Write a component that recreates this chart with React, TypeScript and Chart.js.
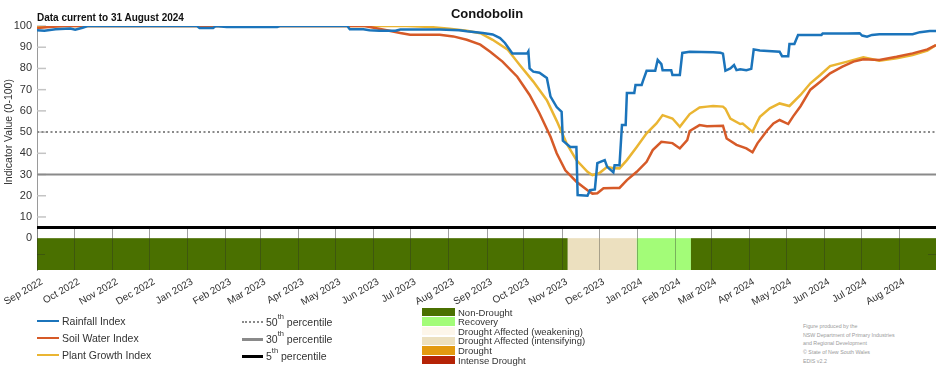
import React, { useEffect, useRef } from 'react';
import { Chart, registerables } from 'chart.js';
Chart.register(...registerables);

const FONT = '"Liberation Sans", Arial, sans-serif';

// x values are days since 1 Sep 2022
const monthDays = [0, 30, 61, 91, 122, 153, 181, 212, 242, 273, 303, 334, 365, 395, 426, 456, 487, 518, 547, 578, 608, 639, 669, 700];
const monthLabels = ['Sep 2022', 'Oct 2022', 'Nov 2022', 'Dec 2022', 'Jan 2023', 'Feb 2023', 'Mar 2023', 'Apr 2023', 'May 2023', 'Jun 2023', 'Jul 2023', 'Aug 2023', 'Sep 2023', 'Oct 2023', 'Nov 2023', 'Dec 2023', 'Jan 2024', 'Feb 2024', 'Mar 2024', 'Apr 2024', 'May 2024', 'Jun 2024', 'Jul 2024', 'Aug 2024'];
const yTicks = [0, 10, 20, 30, 40, 50, 60, 70, 80, 90, 100];

const rainDays = [0, 6, 15, 27, 31, 37, 41, 130, 132, 143, 145, 154, 195, 197, 252, 254, 265, 270, 278, 291, 295, 327, 343, 349, 362, 370, 376, 380, 386, 398, 399, 400, 403, 408, 414, 417, 422, 426, 427, 433, 438, 439, 447, 449, 453, 455, 461, 463, 468, 469, 473, 475, 478, 479, 485, 486, 491, 492, 495, 502, 504, 507, 508, 515, 516, 522, 524, 530, 549, 555, 557, 559, 563, 566, 568, 571, 576, 580, 582, 587, 603, 605, 610, 611, 615, 618, 637, 638, 658, 668, 670, 674, 678, 684, 711, 717, 725, 730];
const rainValues = [98, 97.8, 98.5, 98.8, 98.2, 99.2, 100, 100, 99, 99, 100, 99.5, 99.5, 100, 100, 98.5, 98.5, 98, 97.8, 97.8, 98.3, 98.3, 98, 97.5, 96.7, 96, 94.3, 92, 87, 87, 88, 80, 78.5, 78, 75.5, 66.7, 61.8, 59.6, 46, 43, 43, 20.3, 20, 22.6, 23, 35.4, 36.8, 33.6, 31, 34.4, 34.4, 53.3, 53.3, 68.4, 68.4, 72.2, 72.2, 74, 78.9, 78.9, 84, 82, 79.2, 79.2, 76.9, 76.9, 87.3, 87.9, 87.6, 87.4, 87, 78.9, 80, 81.6, 79.2, 79.6, 79.2, 79.8, 89, 88.5, 87.9, 85.8, 85.8, 91.5, 91.5, 95.8, 95.8, 96.5, 96.5, 96.6, 95.5, 95, 95.8, 96.1, 96.1, 97.1, 97.6, 97.6];

const soilDays = [0, 10, 22, 266, 284, 295, 303, 327, 338, 349, 360, 368, 378, 390, 400, 408, 417, 422, 429, 438, 447, 451, 455, 460, 468, 473, 479, 487, 495, 500, 507, 516, 522, 528, 530, 538, 544, 557, 560, 568, 576, 581, 585, 593, 598, 603, 610, 614, 620, 628, 636, 644, 654, 663, 671, 684, 698, 711, 723, 730];
const soilValues = [99, 99.5, 100, 100, 98, 96.7, 95.9, 95.9, 95.1, 93.5, 91.2, 87.9, 83.2, 76.1, 67.5, 58.9, 47.8, 40, 32, 26.6, 22.6, 21, 21.2, 23.5, 23.7, 23.7, 27.4, 31.3, 36, 41.5, 45.4, 44.8, 42.3, 46.2, 50.5, 53.3, 52.8, 53, 47, 44, 42.3, 40.5, 44.7, 50.9, 54.1, 55.7, 53.8, 57.4, 62.2, 70, 73.7, 77.7, 80.8, 83.2, 84.3, 84, 85.5, 87.1, 89, 91];

const plantDays = [0, 15, 300, 320, 335, 349, 360, 370, 382, 392, 403, 414, 422, 430, 438, 447, 451, 457, 463, 468, 473, 479, 487, 495, 503, 508, 516, 522, 530, 538, 544, 549, 557, 559, 563, 571, 573, 581, 585, 587, 595, 603, 611, 620, 628, 636, 644, 658, 671, 684, 698, 711, 723, 730];
const plantValues = [99.3, 100, 100, 99.5, 98.7, 97.8, 96.6, 93.5, 89, 81.6, 73.8, 65, 55.3, 44.7, 36.8, 31.3, 29.7, 30.8, 33.6, 33, 32.9, 36.8, 43, 49.4, 54.1, 58, 56.4, 52.5, 58.5, 61.6, 62, 62.3, 62, 61, 56.4, 53.8, 54, 50.1, 55, 57.2, 61.2, 63.5, 62.3, 67.5, 73, 76.9, 81.1, 83.2, 85.2, 83.6, 84.8, 86.3, 88.4, 91];

const bandStart = [0, 431, 487, 531];
const bandEnd = [431, 487, 531, 730];
const bandCategory = ['Non-Drought', 'Drought Affected (intensifying)', 'Recovery', 'Non-Drought'];

const categoryNames = ['Non-Drought', 'Recovery', 'Drought Affected (weakening)', 'Drought Affected (intensifying)', 'Drought', 'Intense Drought'];
const categoryColors = ['#4a7000', '#a3fc78', '#fdf6ea', '#ece0bf', '#e39a10', '#b52306'];

const seriesNames = ['Rainfall Index', 'Soil Water Index', 'Plant Growth Index'];
const seriesColors = ['#1b74bb', '#d65a28', '#eab532'];

const percentileValues = [50, 30, 5];
const percentileLabels = ['50', '30', '5'];

const Y_MIN = -15;

const colorOf = (name: string) => categoryColors[categoryNames.indexOf(name)];

const bgPlugin = {
  id: 'bgPlugin',
  beforeDatasetsDraw(chart: any) {
    const { ctx, scales } = chart;
    const x = scales.x, y = scales.y;
    const yTop0 = y.getPixelForValue(0);
    const yBot = y.getPixelForValue(Y_MIN);
    ctx.save();
    bandStart.forEach((s, i) => {
      const x0 = x.getPixelForValue(s);
      const x1 = x.getPixelForValue(bandEnd[i]);
      ctx.fillStyle = colorOf(bandCategory[i]);
      ctx.fillRect(x0, yTop0, x1 - x0, yBot - yTop0);
    });
    ctx.lineWidth = 1;
    monthDays.forEach((d) => {
      const px = Math.round(x.getPixelForValue(d)) + 0.5;
      ctx.strokeStyle = 'rgba(120,120,120,0.7)';
      ctx.beginPath();
      ctx.moveTo(px, y.getPixelForValue(5));
      ctx.lineTo(px, yTop0);
      ctx.stroke();
      ctx.strokeStyle = 'rgba(40,40,40,0.35)';
      ctx.beginPath();
      ctx.moveTo(px, yTop0);
      ctx.lineTo(px, yBot);
      ctx.stroke();
    });
    const ym = Math.round(y.getPixelForValue(-7.5)) + 0.5;
    ctx.strokeStyle = 'rgba(40,40,40,0.35)';
    ctx.beginPath();
    ctx.moveTo(x.left, ym); ctx.lineTo(x.left + 8, ym);
    ctx.moveTo(x.right - 8, ym); ctx.lineTo(x.right, ym);
    ctx.stroke();
    ctx.strokeStyle = '#c4c4c4';
    ctx.lineWidth = 1.5;
    yTicks.forEach((v) => {
      if (v === 0) return;
      const py = y.getPixelForValue(v);
      ctx.beginPath();
      ctx.moveTo(x.left, py);
      ctx.lineTo(x.left + 9, py);
      ctx.stroke();
    });
    percentileValues.forEach((v, i) => {
      const py = y.getPixelForValue(v);
      ctx.beginPath();
      if (i === 0) { ctx.strokeStyle = '#8a8a8a'; ctx.lineWidth = 2; ctx.setLineDash([2, 2.5]); }
      else if (i === 1) { ctx.strokeStyle = '#8a8a8a'; ctx.lineWidth = 2; ctx.setLineDash([]); }
      else { ctx.strokeStyle = '#000'; ctx.lineWidth = 3; ctx.setLineDash([]); }
      ctx.moveTo(x.left, py);
      ctx.lineTo(x.right, py);
      ctx.stroke();
    });
    ctx.setLineDash([]);
    ctx.restore();
  },
  afterDraw(chart: any) {
    const { ctx, scales } = chart;
    const y = scales.y;
    const cy = (y.getPixelForValue(0) + y.getPixelForValue(100)) / 2;
    ctx.save();
    ctx.translate(9, cy);
    ctx.rotate(-Math.PI / 2);
    ctx.fillStyle = '#333';
    ctx.font = `10.5px ${FONT}`;
    ctx.textAlign = 'center';
    ctx.textBaseline = 'middle';
    ctx.fillText('Indicator Value (0-100)', 0, 0);
    ctx.restore();
  },
};

export default function App() {
  const ref = useRef<HTMLCanvasElement>(null);
  useEffect(() => {
    const mk = (days: number[], vals: number[]) => days.map((d, i) => ({ x: d, y: vals[i] }));
    const chart = new Chart(ref.current as HTMLCanvasElement, {
      type: 'line',
      data: {
        datasets: [
          { label: seriesNames[0], data: mk(rainDays, rainValues), borderColor: seriesColors[0], borderWidth: 2.5, pointRadius: 0, tension: 0, fill: false },
          { label: seriesNames[1], data: mk(soilDays, soilValues), borderColor: seriesColors[1], borderWidth: 2.5, pointRadius: 0, tension: 0, fill: false },
          { label: seriesNames[2], data: mk(plantDays, plantValues), borderColor: seriesColors[2], borderWidth: 2.5, pointRadius: 0, tension: 0, fill: false },
        ],
      },
      options: {
        animation: false,
        responsive: false,
        maintainAspectRatio: false,
        devicePixelRatio: 1,
        layout: { padding: { top: 26, right: 16, left: 0, bottom: 0 } },
        plugins: { legend: { display: false }, title: { display: false }, tooltip: { enabled: false } },
        scales: {
          x: {
            type: 'linear',
            min: 0,
            max: 730,
            grid: { display: false, drawTicks: false },
            border: { display: false },
            afterBuildTicks: (scale: any) => { scale.ticks = monthDays.map((v) => ({ value: v })); },
            afterFit: (scale: any) => { scale.height = 40; scale.paddingLeft = 0; scale.paddingRight = 0; },
            ticks: {
              autoSkip: false,
              minRotation: 30,
              maxRotation: 30,
              padding: 6,
              labelOffset: 5,
              color: '#333',
              font: { family: FONT, size: 10 },
              callback: (v: any) => { const i = monthDays.indexOf(Number(v)); return i >= 0 ? monthLabels[i] : ''; },
            },
          },
          y: {
            type: 'linear',
            min: Y_MIN,
            max: 100,
            grid: { display: false, drawTicks: false },
            border: { display: true, color: '#9a9a9a', width: 1 },
            afterBuildTicks: (scale: any) => { scale.ticks = yTicks.map((v) => ({ value: v })); },
            afterFit: (scale: any) => { scale.width = 37; scale.paddingTop = 0; scale.paddingBottom = 0; },
            ticks: { padding: 5, color: '#333', font: { family: FONT, size: 11 } },
          },
        },
      },
      plugins: [bgPlugin],
    } as any);
    return () => chart.destroy();
  }, []);

  const rowY = [321, 338, 355];
  const catRowY = [312, 321.6, 331.2, 340.8, 350.4, 360];
  const credits = ['Figure produced by the', 'NSW Department of Primary Industries', 'and Regional Development', '\u00a9 State of New South Wales', 'EDIS v2.2'];

  return (
    <div style={{ position: 'fixed', left: 0, top: 0, width: 952, height: 370, background: '#fff', fontFamily: FONT, color: '#333', overflow: 'hidden' }}>
      <canvas ref={ref} width={952} height={310} style={{ position: 'absolute', left: 0, top: 0, width: 952, height: 310 }} />
      <div style={{ position: 'absolute', left: 387, top: 6, width: 200, textAlign: 'center', fontSize: 13, fontWeight: 'bold', color: '#111', lineHeight: '16px' }}>Condobolin</div>
      <div style={{ position: 'absolute', left: 37, top: 12, fontSize: 10, fontWeight: 'bold', color: '#111', lineHeight: '12px', whiteSpace: 'nowrap' }}>Data current to 31 August 2024</div>

      {seriesNames.map((n, i) => (
        <React.Fragment key={n}>
          <div style={{ position: 'absolute', left: 37, top: rowY[i] - 1.25, width: 22, height: 2.5, background: seriesColors[i] }} />
          <div style={{ position: 'absolute', left: 62, top: rowY[i] - 7, fontSize: 10.5, lineHeight: '14px', whiteSpace: 'nowrap' }}>{n}</div>
        </React.Fragment>
      ))}

      {percentileLabels.map((p, i) => (
        <React.Fragment key={p}>
          <div style={{ position: 'absolute', left: 242, top: rowY[i] + 1 - (i === 2 ? 1.5 : 1), width: 21, height: 0, borderTop: i === 0 ? '2px dotted #8a8a8a' : i === 1 ? '3px solid #8a8a8a' : '3px solid #000' }} />
          <div style={{ position: 'absolute', left: 266, top: rowY[i] - 7, fontSize: 10.5, lineHeight: '16px', whiteSpace: 'nowrap' }}>
            {p}<sup style={{ fontSize: 7.5, verticalAlign: 'top', lineHeight: '10px', position: 'relative', top: -2 }}>th</sup> percentile
          </div>
        </React.Fragment>
      ))}

      {categoryNames.map((n, i) => (
        <React.Fragment key={n}>
          <div style={{ position: 'absolute', left: 422, top: catRowY[i] - 4.3, width: 33, height: 8.6, background: categoryColors[i] }} />
          <div style={{ position: 'absolute', left: 458, top: catRowY[i] - 5.5, fontSize: 9.5, lineHeight: '11px', whiteSpace: 'nowrap' }}>{n}</div>
        </React.Fragment>
      ))}

      {credits.map((c, i) => (
        <div key={c} style={{ position: 'absolute', left: 803, top: 322 + i * 8.7, fontSize: 5.3, lineHeight: '8px', color: '#9a9a9a', whiteSpace: 'nowrap' }}>{c}</div>
      ))}
    </div>
  );
}
